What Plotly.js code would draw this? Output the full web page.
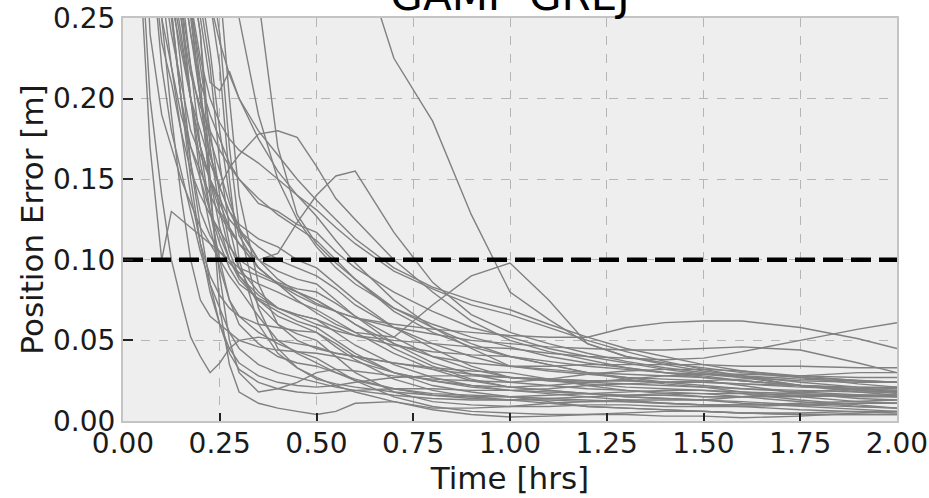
<!DOCTYPE html>
<html>
<head>
<meta charset="utf-8">
<script src="https://cdn.plot.ly/plotly-3.0.1.min.js"></script>
<style>html,body{margin:0;padding:0;background:#fff;}#chart{width:929px;height:498px;}</style>
</head>
<body>
<div id="chart"></div>
<script>
// Time grid (hours)
const timeHrs = [0.04,0.07,0.1,0.125,0.15,0.175,0.2,0.225,0.25,0.275,0.3,0.35,0.4,0.45,0.5,0.55,0.6,0.7,0.8,0.9,1.0,1.1,1.2,1.3,1.4,1.5,1.6,1.75,1.9,2.0];

// Position error runs [m]
const r01 = [1.2,1.15,1.1,1.05,1.0,0.95,0.9,0.85,0.8,0.76,0.72,0.65,0.58,0.52,0.47,0.40,0.30,0.225,0.186,0.128,0.08,0.063,0.048,0.04,0.035,0.031,0.028,0.024,0.021,0.02];
const r02 = [0.6,0.45,0.33,0.28,0.24,0.2,0.17,0.15,0.13,0.12,0.11,0.095,0.085,0.075,0.067,0.06,0.055,0.052,0.072,0.09,0.098,0.075,0.048,0.04,0.036,0.033,0.03,0.027,0.025,0.024];
const r03 = [0.7,0.5,0.4,0.33,0.28,0.24,0.2,0.175,0.155,0.135,0.12,0.1,0.104,0.123,0.14,0.152,0.155,0.117,0.086,0.066,0.055,0.048,0.042,0.037,0.033,0.03,0.027,0.022,0.019,0.018];
const r04 = [0.8,0.6,0.45,0.36,0.3,0.25,0.2,0.165,0.145,0.157,0.165,0.178,0.18,0.176,0.158,0.138,0.125,0.1,0.08,0.062,0.05,0.043,0.038,0.033,0.03,0.028,0.025,0.022,0.019,0.017];
const r05 = [2,1.8,1.6,1.4,1.2,1.0,0.9,0.8,0.6,0.45,0.36,0.262,0.17,0.128,0.11,0.098,0.088,0.07,0.058,0.048,0.04,0.035,0.03,0.027,0.024,0.022,0.02,0.018,0.016,0.015];
const r06 = [1.5,1.3,1.1,0.9,0.75,0.6,0.5,0.4,0.33,0.29,0.25,0.19,0.15,0.125,0.108,0.095,0.085,0.07,0.06,0.052,0.046,0.04,0.036,0.033,0.03,0.027,0.025,0.022,0.02,0.018];
const r07 = [0.5,0.38,0.3,0.26,0.23,0.2,0.17,0.15,0.135,0.12,0.11,0.095,0.085,0.078,0.072,0.068,0.064,0.06,0.057,0.055,0.053,0.052,0.052,0.058,0.061,0.062,0.062,0.058,0.051,0.045];
const r08 = [0.7,0.45,0.3,0.25,0.2,0.17,0.15,0.13,0.115,0.1,0.09,0.078,0.07,0.065,0.06,0.056,0.053,0.05,0.048,0.046,0.045,0.042,0.04,0.039,0.038,0.039,0.043,0.05,0.057,0.061];
const r09 = [0.9,0.6,0.4,0.3,0.26,0.22,0.19,0.165,0.145,0.13,0.118,0.1,0.088,0.08,0.073,0.068,0.064,0.058,0.054,0.05,0.048,0.046,0.045,0.044,0.044,0.045,0.046,0.044,0.036,0.03];
const r10 = [1.2,0.9,0.7,0.55,0.45,0.36,0.3,0.26,0.235,0.215,0.2,0.18,0.165,0.15,0.137,0.125,0.113,0.095,0.083,0.075,0.069,0.06,0.052,0.045,0.04,0.035,0.031,0.027,0.023,0.021];
const r11 = [1.0,0.7,0.5,0.4,0.32,0.26,0.225,0.2,0.185,0.175,0.168,0.16,0.15,0.14,0.131,0.12,0.11,0.093,0.082,0.072,0.066,0.058,0.05,0.043,0.037,0.032,0.028,0.022,0.018,0.016];
const r12 = [1.1,0.8,0.6,0.45,0.36,0.29,0.25,0.21,0.205,0.217,0.2,0.175,0.155,0.14,0.127,0.112,0.098,0.075,0.058,0.045,0.034,0.031,0.029,0.027,0.026,0.025,0.022,0.017,0.014,0.013];
const r13 = [0.9,0.6,0.45,0.35,0.28,0.24,0.21,0.19,0.175,0.16,0.15,0.135,0.13,0.122,0.117,0.105,0.095,0.08,0.068,0.058,0.052,0.045,0.04,0.036,0.032,0.029,0.027,0.025,0.024,0.024];
const r14 = [0.8,0.5,0.36,0.3,0.25,0.215,0.195,0.18,0.168,0.158,0.15,0.138,0.128,0.12,0.112,0.1,0.088,0.068,0.055,0.046,0.04,0.035,0.03,0.026,0.023,0.021,0.018,0.015,0.012,0.011];
const r15 = [0.7,0.45,0.33,0.27,0.235,0.2,0.18,0.16,0.145,0.13,0.122,0.113,0.108,0.1,0.095,0.085,0.075,0.058,0.045,0.034,0.027,0.025,0.023,0.021,0.02,0.019,0.018,0.017,0.016,0.015];
const r16 = [0.6,0.38,0.28,0.24,0.21,0.18,0.165,0.15,0.138,0.125,0.118,0.108,0.1,0.095,0.09,0.082,0.072,0.058,0.048,0.04,0.034,0.032,0.03,0.029,0.028,0.027,0.025,0.022,0.02,0.019];
const r17 = [0.55,0.35,0.25,0.22,0.19,0.17,0.155,0.14,0.128,0.118,0.11,0.1,0.093,0.088,0.085,0.075,0.065,0.048,0.036,0.029,0.024,0.022,0.02,0.019,0.018,0.017,0.015,0.012,0.009,0.008];
const r18 = [0.45,0.3,0.235,0.21,0.18,0.155,0.14,0.128,0.118,0.108,0.1,0.092,0.086,0.082,0.08,0.073,0.065,0.052,0.04,0.032,0.027,0.026,0.025,0.025,0.024,0.024,0.023,0.022,0.021,0.021];
const r19 = [0.3,0.17,0.1,0.13,0.125,0.12,0.115,0.11,0.105,0.1,0.095,0.09,0.085,0.08,0.075,0.068,0.06,0.045,0.034,0.026,0.021,0.019,0.017,0.015,0.014,0.013,0.011,0.009,0.007,0.006];
const r20 = [0.65,0.4,0.3,0.255,0.2,0.16,0.13,0.115,0.105,0.098,0.092,0.085,0.08,0.074,0.069,0.062,0.055,0.042,0.032,0.025,0.021,0.022,0.024,0.026,0.028,0.029,0.029,0.028,0.027,0.027];
const r21 = [0.9,0.55,0.4,0.32,0.26,0.2,0.16,0.13,0.11,0.095,0.085,0.076,0.07,0.066,0.063,0.055,0.047,0.035,0.027,0.022,0.019,0.018,0.017,0.016,0.016,0.015,0.015,0.016,0.016,0.016];
const r22 = [1.0,0.65,0.45,0.35,0.29,0.255,0.2,0.15,0.12,0.1,0.088,0.075,0.068,0.062,0.058,0.05,0.042,0.03,0.022,0.018,0.015,0.014,0.013,0.012,0.011,0.01,0.009,0.007,0.006,0.005];
const r23 = [1.1,0.75,0.5,0.4,0.33,0.28,0.24,0.17,0.13,0.105,0.09,0.075,0.065,0.06,0.055,0.046,0.038,0.026,0.019,0.015,0.013,0.011,0.009,0.008,0.007,0.006,0.005,0.004,0.004,0.004];
const r24 = [1.2,0.8,0.55,0.42,0.35,0.3,0.26,0.22,0.16,0.12,0.095,0.072,0.06,0.054,0.05,0.04,0.03,0.018,0.012,0.01,0.009,0.009,0.01,0.01,0.009,0.009,0.009,0.01,0.011,0.011];
const r25 = [0.32,0.2,0.14,0.1,0.075,0.052,0.04,0.03,0.036,0.045,0.05,0.052,0.05,0.048,0.046,0.042,0.04,0.036,0.032,0.029,0.027,0.025,0.024,0.023,0.022,0.021,0.02,0.019,0.018,0.018];
const r26 = [0.6,0.35,0.25,0.19,0.14,0.1,0.075,0.065,0.06,0.055,0.05,0.046,0.044,0.043,0.042,0.04,0.037,0.03,0.025,0.021,0.019,0.02,0.022,0.023,0.024,0.025,0.026,0.028,0.03,0.03];
const r27 = [0.8,0.5,0.36,0.3,0.25,0.2,0.15,0.12,0.095,0.075,0.065,0.055,0.048,0.043,0.039,0.032,0.025,0.015,0.009,0.006,0.005,0.004,0.004,0.004,0.003,0.003,0.002,0.003,0.005,0.006];
const r28 = [0.95,0.6,0.42,0.33,0.27,0.22,0.17,0.13,0.1,0.075,0.06,0.048,0.04,0.036,0.034,0.03,0.026,0.02,0.016,0.014,0.013,0.014,0.015,0.016,0.017,0.017,0.017,0.016,0.015,0.015];
const r29 = [1.0,0.7,0.48,0.38,0.3,0.26,0.21,0.14,0.09,0.05,0.03,0.018,0.02,0.024,0.03,0.032,0.031,0.028,0.026,0.025,0.024,0.026,0.029,0.031,0.032,0.032,0.031,0.028,0.025,0.024];
const r30 = [1.1,0.75,0.52,0.4,0.32,0.28,0.24,0.15,0.07,0.035,0.018,0.011,0.008,0.006,0.004,0.006,0.011,0.012,0.008,0.008,0.009,0.011,0.012,0.013,0.013,0.013,0.015,0.018,0.02,0.021];
const r31 = [1.2,0.9,0.65,0.5,0.4,0.33,0.29,0.26,0.22,0.15,0.1,0.06,0.042,0.033,0.027,0.022,0.018,0.012,0.007,0.004,0.0025,0.003,0.004,0.005,0.006,0.006,0.005,0.004,0.004,0.004];
const r32 = [1.3,1.0,0.75,0.6,0.48,0.38,0.32,0.28,0.24,0.17,0.12,0.07,0.045,0.033,0.026,0.023,0.021,0.018,0.016,0.015,0.015,0.016,0.017,0.018,0.019,0.019,0.017,0.013,0.01,0.008];
const r33 = [0.7,0.42,0.3,0.255,0.2,0.15,0.11,0.08,0.06,0.045,0.036,0.028,0.024,0.022,0.021,0.022,0.024,0.027,0.028,0.028,0.027,0.026,0.025,0.025,0.024,0.024,0.023,0.021,0.02,0.019];
const r34 = [0.75,0.45,0.32,0.27,0.22,0.16,0.12,0.085,0.06,0.042,0.032,0.024,0.02,0.018,0.017,0.018,0.019,0.02,0.02,0.019,0.019,0.017,0.015,0.013,0.011,0.01,0.01,0.011,0.012,0.013];
const r35 = [1.2,0.85,0.6,0.47,0.37,0.31,0.27,0.23,0.18,0.14,0.115,0.095,0.085,0.08,0.075,0.068,0.06,0.048,0.04,0.036,0.034,0.034,0.035,0.035,0.035,0.035,0.034,0.034,0.033,0.033];
const r36 = [1.0,0.65,0.46,0.36,0.3,0.255,0.22,0.18,0.14,0.11,0.095,0.08,0.07,0.066,0.063,0.058,0.053,0.047,0.043,0.041,0.04,0.037,0.034,0.032,0.03,0.029,0.028,0.026,0.025,0.024];
const r37 = [0.62,0.38,0.27,0.22,0.18,0.14,0.11,0.09,0.078,0.07,0.065,0.06,0.058,0.056,0.055,0.048,0.04,0.03,0.025,0.022,0.021,0.019,0.017,0.015,0.014,0.013,0.012,0.01,0.009,0.008];
const r38 = [1.4,1.1,0.85,0.7,0.55,0.45,0.38,0.32,0.27,0.2,0.14,0.085,0.06,0.05,0.045,0.042,0.04,0.036,0.033,0.031,0.03,0.026,0.022,0.019,0.017,0.015,0.015,0.015,0.016,0.016];
const r39 = [0.38,0.24,0.19,0.17,0.15,0.135,0.12,0.11,0.1,0.09,0.082,0.065,0.05,0.042,0.036,0.03,0.025,0.02,0.017,0.016,0.015,0.012,0.009,0.008,0.007,0.006,0.005,0.005,0.006,0.006];
const r40 = [0.5,0.3,0.22,0.18,0.155,0.13,0.105,0.085,0.07,0.055,0.045,0.035,0.03,0.027,0.024,0.021,0.019,0.016,0.014,0.013,0.013,0.013,0.012,0.012,0.011,0.01,0.01,0.01,0.011,0.011];

// Threshold
const thresholdX = [0, 2];
const thresholdY = [0.1, 0.1];

const runs = [r01,r02,r03,r04,r05,r06,r07,r08,r09,r10,r11,r12,r13,r14,r15,r16,r17,r18,r19,r20,
              r21,r22,r23,r24,r25,r26,r27,r28,r29,r30,r31,r32,r33,r34,r35,r36,r37,r38,r39,r40];

const traces = runs.map(r => ({
  x: timeHrs, y: r, type: 'scatter', mode: 'lines',
  line: {color: '#808080', width: 1.4}, hoverinfo: 'skip', showlegend: false
}));
traces.push({
  x: thresholdX, y: thresholdY, type: 'scatter', mode: 'lines',
  line: {color: '#000000', width: 4.5, dash: '20px,8px'}, showlegend: false
});

const font = 'DejaVu Sans, sans-serif';
const layout = {
  width: 929, height: 498,
  margin: {l: 123, r: 32, t: 18, b: 77, pad: 0},
  paper_bgcolor: '#ffffff',
  plot_bgcolor: '#eeeeee',
  font: {family: font, color: '#1a1a1a'},
  title: {text: 'GAMP-GREJ', font: {family: font, size: 42, color: '#000'},
          x: 0.5, xref: 'paper', xanchor: 'center', y: 1, yref: 'paper', yanchor: 'bottom', pad: {b: 8}},
  xaxis: {
    range: [0, 2], tick0: 0, dtick: 0.25, tickformat: '.2f',
    ticks: 'inside', ticklen: 8, tickwidth: 2, tickcolor: '#222',
    ticklabelstandoff: -4,
    showgrid: true, gridcolor: '#b5b5b5', griddash: 'dash', gridwidth: 1,
    zeroline: false, showline: true, mirror: true, linecolor: '#c4c4c4', linewidth: 2,
    tickfont: {family: font, size: 28, color: '#1a1a1a'},
    title: {text: 'Time [hrs]', font: {family: font, size: 31, color: '#1a1a1a'}, standoff: 9}
  },
  yaxis: {
    range: [0, 0.25], tick0: 0, dtick: 0.05, tickformat: '.2f',
    ticks: 'inside', ticklen: 10, tickwidth: 2, tickcolor: '#222',
    showgrid: true, gridcolor: '#b5b5b5', griddash: 'dash', gridwidth: 1,
    zeroline: false, showline: true, mirror: true, linecolor: '#c4c4c4', linewidth: 2,
    tickfont: {family: font, size: 28, color: '#1a1a1a'},
    title: {text: 'Position Error [m]', font: {family: font, size: 31, color: '#1a1a1a'}, standoff: 0}
  }
};

Plotly.newPlot('chart', traces, layout, {displayModeBar: false, staticPlot: true});
</script>
</body>
</html>
